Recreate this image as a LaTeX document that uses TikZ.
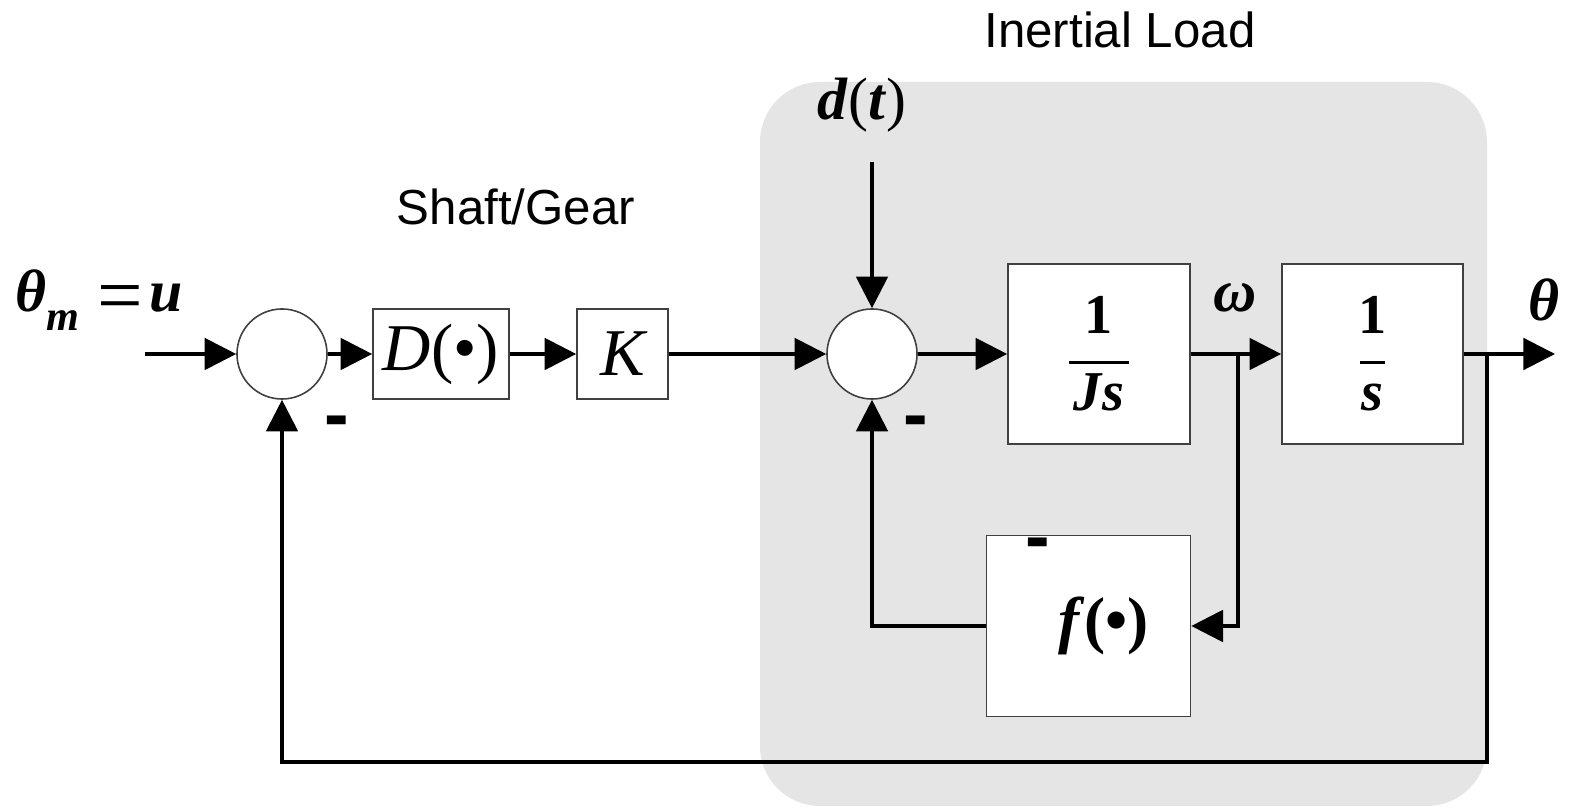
\documentclass[tikz,border=0pt]{standalone}
\usepackage{fontspec}
\setmainfont{Liberation Serif}
\newfontfamily\arialfont{Liberation Sans}
\usetikzlibrary{arrows.meta}

\tikzset{
  sig/.style={line width=0.9pt, -{Triangle[length=9pt,width=9pt]}},
  blk/.style={draw=black!75, line width=0.45pt, fill=white, inner sep=0pt},
  summer/.style={circle, draw=black!75, line width=0.45pt, fill=white, minimum size=0.9cm, inner sep=0pt},
  mlabel/.style={font=\fontsize{17}{20}\selectfont\bfseries\itshape},
  title/.style={font=\arialfont\fontsize{14}{16}\selectfont},
  minus/.style={font=\arialfont\bfseries\fontsize{21}{21}\selectfont, inner sep=0pt},
}

\begin{document}
\begin{tikzpicture}[x=0.01cm, y=-0.01cm]
  \useasboundingbox (0,0) rectangle (1575,810);
  \fill[gray!20, rounded corners=0.6cm] (760,82) rectangle (1487,806);

  \node[title] (loadname) at (1120,30) {Inertial Load};
  \node[title] (shaftname) at (516,207) {Shaft/Gear};

  \node[summer] (sumA) at (282,354) {};
  \node[summer] (sumB) at (872,354) {};
  \node[blk, minimum width=1.36cm, minimum height=0.9cm,
        font=\fontsize{19}{20}\selectfont] (ctrl) at (441,354) {\textit{D}(•)};
  \node[blk, minimum width=0.91cm, minimum height=0.9cm,
        font=\fontsize{19}{20}\selectfont\itshape] (gain) at (622.5,354) {K};
  \node[blk, minimum width=1.82cm, minimum height=1.8cm, align=center,
        font=\fontsize{16}{11}\selectfont\bfseries] (inert) at (1099,354)
        {1\\\rule[2.4pt]{17pt}{0.8pt}\\\textit{Js}};
  \node[blk, minimum width=1.81cm, minimum height=1.8cm, align=center,
        font=\fontsize{16}{11}\selectfont\bfseries] (integ) at (1372.5,354)
        {1\\\rule[2.4pt]{7pt}{0.8pt}\\\textit{s}};
  \node[blk, minimum width=2.04cm, minimum height=1.81cm,
        font=\fontsize{18}{20}\selectfont\bfseries] (fric) at (1088.5,626)
        {\hspace*{0.3cm}\textit{f}(•)};

  \node[mlabel, anchor=west, inner sep=0pt] (inname) at (15,300)
        {θ\raisebox{-0.7ex}{\fontsize{12}{12}\selectfont m}\hspace{5pt}\raisebox{-3.2pt}{\textup{\mdseries\fontsize{23}{20}\selectfont =}}\hspace{2pt}u};
  \node[mlabel] (distname) at (862,105) {d\textup{\mdseries (}t\textup{\mdseries )}};
  \node[mlabel] (omega) at (1235,298) {ω};
  \node[mlabel] (theta) at (1544,300) {θ};

  \node[minus] (mA) at (337,428) {-};
  \node[minus] (mB) at (916,428) {-};
  \node[minus] (mC) at (1038,550) {-};

  \coordinate (in) at (145,354);
  \coordinate (dist) at (872,162);
  \coordinate (wtap) at (1238,354);
  \coordinate (thtap) at (1487,354);
  \coordinate (out) at (1555,354);
  \coordinate (fb) at (1487,762);

  \draw[sig] (in) -- (sumA);
  \draw[sig] (sumA) -- (ctrl);
  \draw[sig] (ctrl) -- (gain);
  \draw[sig] (gain) -- (sumB);
  \draw[sig] (dist) -- (sumB);
  \draw[sig] (sumB) -- (inert);
  \draw[sig] (inert) -- (integ);
  \draw[sig] (integ) -- (out);
  \draw[sig] (wtap) |- (fric);
  \draw[sig] (fric.west) -| (sumB);
  \draw[sig] (thtap) -- (fb) -| (sumA);
\end{tikzpicture}
\end{document}
